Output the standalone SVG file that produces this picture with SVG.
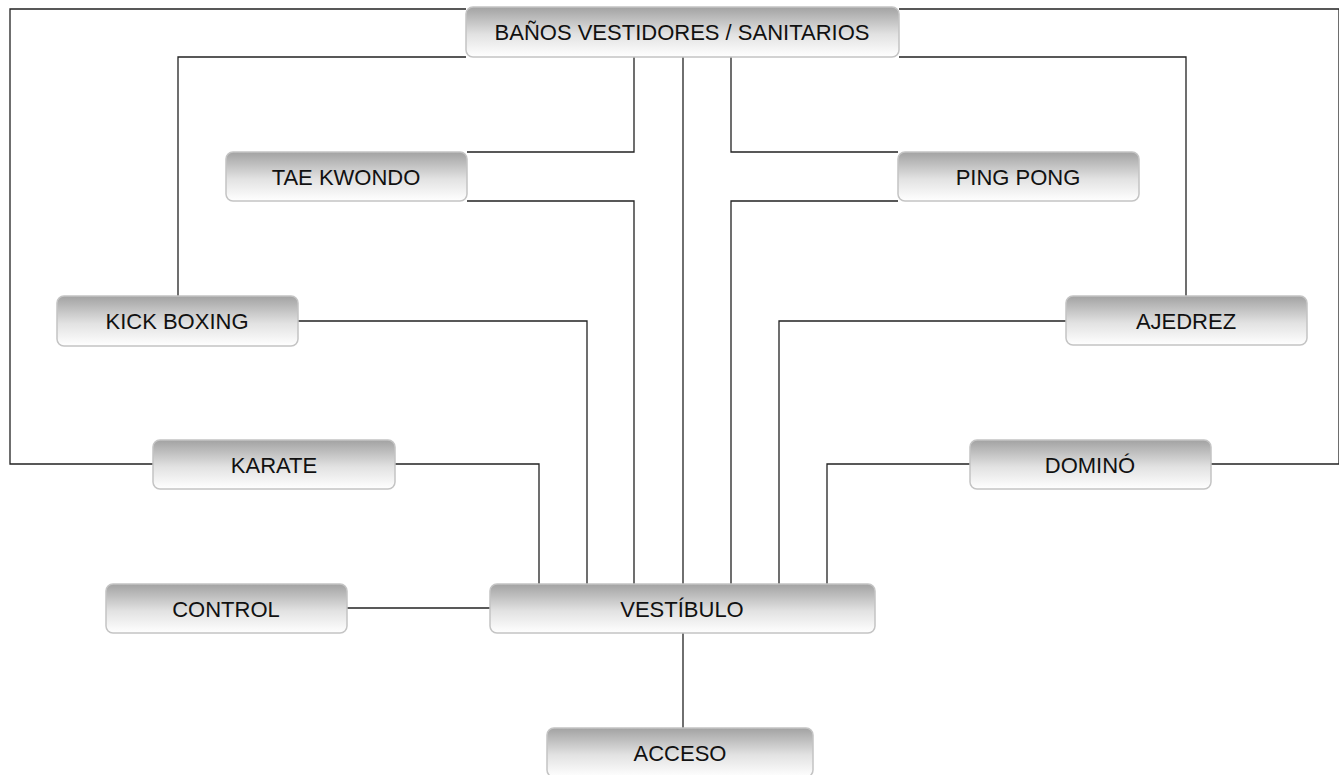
<svg xmlns="http://www.w3.org/2000/svg" width="1339" height="775" viewBox="0 0 1339 775">
<defs>
<linearGradient id="g" x1="0" y1="0" x2="0" y2="1">
<stop offset="0" stop-color="#a2a2a2"/>
<stop offset="0.55" stop-color="#e2e2e2"/>
<stop offset="1" stop-color="#ffffff"/>
</linearGradient>
</defs>
<style>
.box{fill:url(#g);stroke:#c4c4c4;stroke-width:1.5}
.lbl{font-family:"Liberation Sans",Arial,sans-serif;font-size:22px;fill:#111;text-anchor:middle}
.c{fill:none;stroke:#222;stroke-width:1.3}
</style>
<rect width="1339" height="775" fill="#ffffff"/>
<g id="connectors" class="c">
<path d="M153,464 H10 V9 H466"/>
<path d="M1211,464 H1339 V9 H899"/>
<path d="M178,296 V57 H466"/>
<path d="M1186,296 V57 H899"/>
<path d="M634,57 V152 H467"/>
<path d="M731,57 V152 H898"/>
<path d="M683,57 V584"/>
<path d="M467,201 H634 V584"/>
<path d="M898,201 H731 V584"/>
<path d="M298,321 H587 V584"/>
<path d="M1066,321 H779 V584"/>
<path d="M395,464 H539 V584"/>
<path d="M970,464 H827 V584"/>
<path d="M347,608 H490"/>
<path d="M683,633 V728"/>
</g>
<g id="banos"><rect class="box" x="466" y="7" width="433" height="50" rx="7"/><text class="lbl" x="682" y="40">BAÑOS VESTIDORES / SANITARIOS</text></g>
<g id="taekwondo"><rect class="box" x="226" y="152" width="241" height="49" rx="7"/><text class="lbl" x="346" y="185">TAE KWONDO</text></g>
<g id="pingpong"><rect class="box" x="898" y="152" width="241" height="49" rx="7"/><text class="lbl" x="1018" y="185">PING PONG</text></g>
<g id="kickboxing"><rect class="box" x="57" y="296" width="241" height="50" rx="7"/><text class="lbl" x="177" y="329">KICK BOXING</text></g>
<g id="ajedrez"><rect class="box" x="1066" y="296" width="241" height="49" rx="7"/><text class="lbl" x="1186" y="329">AJEDREZ</text></g>
<g id="karate"><rect class="box" x="153" y="440" width="242" height="49" rx="7"/><text class="lbl" x="274" y="473">KARATE</text></g>
<g id="domino"><rect class="box" x="970" y="440" width="241" height="49" rx="7"/><text class="lbl" x="1090" y="473">DOMINÓ</text></g>
<g id="control"><rect class="box" x="106" y="584" width="241" height="49" rx="7"/><text class="lbl" x="226" y="617">CONTROL</text></g>
<g id="vestibulo"><rect class="box" x="490" y="584" width="385" height="49" rx="7"/><text class="lbl" x="682" y="617">VESTÍBULO</text></g>
<g id="acceso"><rect class="box" x="547" y="728" width="266" height="49" rx="7"/><text class="lbl" x="680" y="761">ACCESO</text></g>
</svg>
